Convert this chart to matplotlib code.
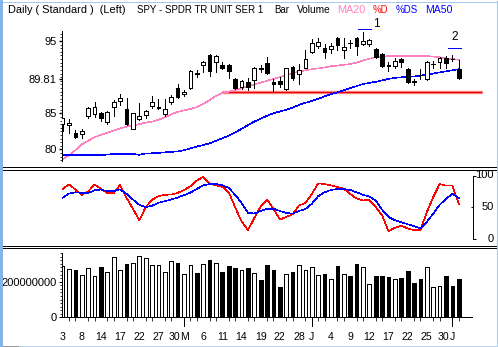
import numpy as np
import matplotlib
matplotlib.use("Agg")
import matplotlib.pyplot as plt
from matplotlib.lines import Line2D
from matplotlib.patches import Rectangle
from matplotlib import transforms

plt.rcParams["font.family"] = ["Liberation Sans", "DejaVu Sans"]
plt.rcParams["font.size"] = 8

# ---------------- data: SPY daily bars, 3 Apr - 2 Jul ----------------
date_labels = ["3", "8", "14", "17", "22", "27", "30", "M", "6", "11", "14", "19",
               "22", "28", "J", "4", "9", "12", "17", "22", "25", "30", "J"]
label_bars = [0, 3, 6, 9, 12, 15, 18, 19, 22, 25, 28, 31, 34, 37, 39, 42, 45, 48,
              51, 54, 57, 60, 61]
month_start_bars = [19, 39, 61]

opens = [83.48, 83.39, 82.33, 82.14, 84.68, 84.86, 85.00, 83.76, 85.92, 86.71,
         85.55, 82.79, 84.22, 84.77, 85.97, 85.69, 84.95, 86.52, 88.46, 87.63,
         88.46, 90.56, 91.68, 93.06, 92.05, 91.68, 91.68, 89.75, 88.69, 89.29,
         89.56, 91.20, 91.91, 89.38, 89.47, 88.32, 91.36, 90.39, 91.31, 93.53,
         94.35, 93.99, 93.90, 95.37, 93.76, 94.70, 95.37, 94.54, 94.54, 93.90,
         93.16, 91.61, 91.59, 92.47, 91.13, 89.40, 90.32, 89.75, 91.75, 92.05,
         92.60, 92.53, 91.13]
highs = [84.40, 84.22, 82.70, 82.83, 85.85, 86.52, 85.14, 85.37, 86.84, 87.67,
         87.07, 85.09, 86.38, 85.46, 87.44, 86.98, 86.98, 87.53, 89.00, 88.18,
         90.99, 90.99, 92.24, 93.20, 93.06, 92.05, 91.82, 89.93, 89.60, 89.93,
         91.45, 91.68, 92.74, 89.75, 89.98, 91.31, 91.54, 91.77, 93.76, 95.28,
         95.37, 94.54, 94.68, 95.60, 95.37, 95.14, 95.60, 96.20, 95.28, 93.99,
         93.30, 92.14, 92.70, 92.60, 91.20, 89.75, 91.13, 92.24, 92.24, 92.83,
         92.97, 93.06, 92.37]
lows = [82.56, 82.24, 81.54, 81.54, 84.31, 84.54, 83.99, 83.57, 84.68, 86.15,
        83.39, 82.79, 84.12, 84.31, 85.78, 85.60, 84.68, 86.24, 87.17, 87.44,
        88.36, 90.07, 90.76, 90.20, 90.76, 91.13, 89.84, 88.36, 88.36, 88.23,
        88.46, 90.76, 90.39, 88.13, 88.59, 88.23, 89.61, 89.01, 91.22, 93.39,
        93.99, 92.70, 93.30, 93.76, 92.60, 94.08, 93.06, 94.45, 94.35, 92.70,
        91.45, 90.85, 91.22, 91.45, 89.20, 88.92, 89.75, 89.61, 91.31, 91.31,
        91.22, 92.24, 89.75]
closes = [84.31, 83.71, 81.68, 82.56, 85.78, 85.88, 84.31, 85.23, 86.52, 87.17,
          83.48, 85.00, 84.59, 85.32, 86.61, 85.92, 85.55, 87.30, 87.30, 87.90,
          90.85, 90.50, 92.05, 90.85, 92.88, 91.22, 90.90, 88.55, 89.47, 88.59,
          91.22, 91.16, 90.53, 89.10, 89.01, 91.22, 89.84, 90.94, 92.51, 94.68,
          94.82, 93.53, 94.35, 94.45, 94.22, 94.66, 94.35, 95.00, 95.14, 92.83,
          91.59, 91.57, 92.24, 92.05, 89.29, 89.36, 90.28, 92.05, 91.79, 92.60,
          91.91, 92.49, 89.84]
volume_m = [288, 269, 265, 237, 275, 232, 282, 252, 336, 264, 299, 303, 344, 331,
            293, 292, 252, 316, 305, 243, 293, 249, 299, 321, 305, 254, 288, 277,
            265, 277, 249, 209, 293, 265, 170, 243, 254, 293, 265, 282, 237, 245,
            215, 288, 243, 232, 299, 282, 187, 234, 234, 226, 215, 221, 260, 193,
            215, 282, 170, 176, 232, 178, 215]
ma20 = [78.60, 79.20, 79.90, 80.70, 81.20, 81.70, 82.00, 82.30, 82.60, 82.90,
        83.15, 83.30, 83.50, 83.70, 83.85, 84.10, 84.45, 84.85, 85.20, 85.40,
        85.60, 85.85, 86.30, 86.80, 87.40, 87.85, 88.00, 88.20, 88.45, 88.75,
        89.00, 89.25, 89.50, 89.75, 90.00, 90.30, 90.55, 90.75, 90.95, 91.10,
        91.20, 91.35, 91.50, 91.60, 91.70, 91.80, 92.00, 92.30, 92.55, 92.75,
        92.85, 92.90, 92.93, 92.93, 92.93, 92.93, 92.93, 92.90, 92.85, 92.75,
        92.60, 92.50, 92.40]
ma50 = [79.25, 79.25, 79.25, 79.25, 79.25, 79.25, 79.25, 79.28, 79.38, 79.38,
        79.38, 79.38, 79.26, 79.45, 79.47, 79.52, 79.60, 79.66, 79.72, 79.90,
        80.15, 80.40, 80.60, 80.85, 81.20, 81.55, 81.90, 82.35, 82.85, 83.35,
        83.85, 84.25, 84.65, 85.00, 85.25, 85.50, 85.80, 86.15, 86.45, 86.70,
        87.00, 87.35, 87.65, 87.90, 88.20, 88.50, 88.75, 89.05, 89.20, 89.35,
        89.55, 89.75, 89.90, 89.97, 90.05, 90.10, 90.20, 90.35, 90.50, 90.65,
        90.80, 90.95, 91.10]
pct_d = [78.8, 86.0, 78.0, 69.5, 75.0, 85.5, 79.0, 72.6, 72.6, 85.0,
         65.0, 47.7, 29.5, 50.0, 61.7, 67.4, 69.5, 70.0, 72.6, 77.0,
         83.0, 92.0, 98.0, 86.6, 84.8, 82.0, 73.6, 50.0, 28.0, 14.0,
         33.0, 51.3, 61.7, 47.7, 30.6, 34.7, 38.9, 53.0, 56.5, 71.0,
         87.6, 86.6, 84.5, 81.9, 79.3, 71.0, 63.8, 60.7, 61.7, 50.3,
         37.4, 12.4, 17.6, 21.2, 16.5, 14.0, 14.0, 42.5, 65.8, 86.6,
         84.0, 84.0, 55.4]
pct_ds = [64.8, 71.6, 73.6, 72.6, 72.6, 76.7, 77.8, 75.2, 75.2, 78.3,
          71.0, 62.2, 53.9, 50.3, 52.4, 57.0, 59.6, 62.2, 65.3, 69.0,
          73.1, 78.8, 84.5, 86.6, 86.6, 84.5, 80.4, 69.5, 57.0, 41.4,
          40.0, 44.1, 47.7, 47.7, 44.1, 41.0, 40.0, 44.1, 47.2, 55.4,
          67.4, 73.6, 77.2, 78.8, 78.8, 77.2, 73.6, 69.5, 66.9, 60.7,
          46.2, 34.7, 29.5, 26.4, 23.3, 20.2, 16.5, 26.9, 40.0, 53.9,
          63.2, 71.0, 64.8]

price_ticks = [80, 85, 89.81, 95]
price_tick_labels = ["80", "85", "89.81", "95"]
support_level = 87.9
support_span = (24.9, 65.6)
marker_bars = [47.25, 61.3]
marker_levels = [96.62, 93.99]
marker_names = ["1", "2"]

# ---------------- figure geometry (pixels) ----------------
W, H = 498, 347
X0, DX = 62.6, 6.39          # pixel centre of first bar, pixel step per bar
PINK, RED, BLUE = "#ff80c0", "#ff0000", "#0000ff"
FRAME = "#86b4ea"
PX = 0.72                    # one pixel in points
THIN = 0.42                  # hairline width for the indicator curves

fig = plt.figure(figsize=(W / 100, H / 100), dpi=100)
fig.patch.set_facecolor("white")


def rect(l, t, r, b):
    return [l / W, 1 - b / H, (r - l) / W, (b - t) / H]


def xlim_for(l, r):
    return ((l - X0) / DX, (r - X0) / DX)


def fig_line(xs, ys, color, lw=PX):
    fig.add_artist(Line2D([x / W for x in xs], [1 - y / H for y in ys],
                          transform=fig.transFigure, color=color, lw=lw,
                          antialiased=False))


bars = np.arange(len(closes))
o = np.array(opens); c = np.array(closes)
up = c >= o
body_fill = np.where(up, "white", "black")

# ---------------- price panel ----------------
ax = fig.add_axes(rect(61.5, 31, 494, 160.5))
ax.set_xlim(*xlim_for(61.5, 494))
ax.set_ylim(78.47, 96.38)
ax.vlines(bars, lows, highs, color="black", lw=0.55, antialiased=False, zorder=3)
ax.bar(bars, np.maximum(np.abs(c - o), 0.03), bottom=np.minimum(o, c), width=0.58,
       color=body_fill, edgecolor="black", lw=0.55, antialiased=False, zorder=4)
ax.plot(bars, ma20, color=PINK, lw=THIN, antialiased=False, zorder=2)
ax.plot(bars, ma50, color=BLUE, lw=THIN, antialiased=False, zorder=2)
ax.plot(support_span, [support_level] * 2, color="#ff9a9a", lw=3.4 * PX,
        solid_capstyle="butt", zorder=1)
ax.plot(support_span, [support_level] * 2, color="#ee0000", lw=1.4 * PX,
        solid_capstyle="butt", zorder=1)
for xb, lvl, name in zip(marker_bars, marker_levels, marker_names):
    ax.plot([xb - 1.0, xb + 1.0], [lvl, lvl], color=BLUE, lw=0.55,
            antialiased=False, clip_on=False)
ax.text(marker_bars[0] + 1.8, marker_levels[0] + 0.66, marker_names[0],
        ha="center", va="center", fontsize=8.5, clip_on=False)
ax.text(marker_bars[1], marker_levels[1] + 1.5, marker_names[1],
        ha="center", va="center", fontsize=8.5, clip_on=False)

for s in ("top", "right", "bottom"):
    ax.spines[s].set_visible(False)
ax.spines["left"].set_linewidth(PX)
ax.set_xticks([])
ax.set_yticks(price_ticks)
ax.set_yticklabels(price_tick_labels)
ax.set_yticks(np.arange(78.5, 96.01, 0.5), minor=True)
ax.tick_params(axis="y", which="major", length=3 * PX, width=1.4 * PX, pad=1.2,
               labelsize=8)
ax.tick_params(axis="y", which="minor", length=2 * PX, width=0.55)
ax.patch.set_alpha(0)

# ---------------- stochastic panel ----------------
osc = fig.add_axes(rect(61.5, 171, 472.7, 244))
osc.set_xlim(*xlim_for(61.5, 472.7))
osc.set_ylim((239 - 244) / 0.635, (239 - 171) / 0.635)
osc.plot(bars, pct_d, color=RED, lw=THIN, antialiased=False)
osc.plot(bars, pct_ds, color=BLUE, lw=THIN, antialiased=False)
for s in ("top", "left", "bottom"):
    osc.spines[s].set_visible(False)
osc.spines["right"].set_bounds(0, 100)
osc.spines["right"].set_linewidth(PX)
osc.yaxis.tick_right()
osc.set_xticks([])
osc.set_yticks([0, 100])
osc.set_yticks([50], minor=True)
osc.tick_params(axis="y", which="major", direction="out", length=3 * PX,
                width=PX, labelright=False)
osc.tick_params(axis="y", which="minor", direction="in", length=2 * PX,
                width=PX, labelright=False)
blend = transforms.blended_transform_factory(osc.transAxes, osc.transData)
xr = (493.5 - 61.5) / (472.7 - 61.5)
for v in (0, 50, 100):
    osc.text(xr, v, str(v), transform=blend, ha="right", va="center", fontsize=8)
osc.patch.set_alpha(0)

# ---------------- volume panel ----------------
vax = fig.add_axes(rect(61.5, 252.7, 471.7, 317.3))
vax.set_xlim(*xlim_for(61.5, 471.7))
vol = np.array(volume_m) * 1e6
vax.set_ylim(0, (317.3 - 252.7) / 35.6 * 200e6)
vax.bar(bars, vol, width=0.58, color=body_fill, edgecolor="black", lw=0.55,
        antialiased=False)
for s in ("top", "right"):
    vax.spines[s].set_visible(False)
vax.spines["left"].set_linewidth(PX)
vax.spines["bottom"].set_linewidth(PX)
vax.set_yticks([0, 200e6])
vax.set_yticklabels(["0", "200000000"])
vax.set_yticks(np.arange(0, 361e6, 20e6), minor=True)
vax.tick_params(axis="y", which="major", length=3 * PX, width=PX, pad=1.0,
                labelsize=8)
vax.tick_params(axis="y", which="minor", length=2 * PX, width=0.55)
vax.set_xticks(label_bars)
vax.set_xticklabels(date_labels)
vax.set_xticks(bars, minor=True)
vax.tick_params(axis="x", which="major", length=0, pad=10.6, labelsize=7.6)
vax.tick_params(axis="x", which="minor", length=4 * PX, width=0.55)
# long ticks at the start of each month
xt = vax.get_xaxis_transform()
for m in month_start_bars:
    vax.add_line(Line2D([m, m], [0, -9 / (317.3 - 252.7)], transform=xt,
                        color="black", lw=PX, clip_on=False, antialiased=False))
# "30" and the month letter right after it sit edge to edge
ticklabs = vax.get_xticklabels()
for i, txt in enumerate(date_labels):
    if txt == "30" and i + 1 < len(date_labels) and date_labels[i + 1] in ("M", "J"):
        ticklabs[i].set_transform(ticklabs[i].get_transform() +
                                  transforms.ScaledTranslation(-3.0 / 100, 0,
                                                               fig.dpi_scale_trans))
vax.patch.set_alpha(0)

# ---------------- window frame, separators and legend line ----------------
fig.add_artist(Rectangle((0, 0), 3 / W, 1, transform=fig.transFigure,
                         color=FRAME, lw=0))
fig_line([3, 497], [1.5, 1.5], "#a9c8ee")
fig_line([496.5, 496.5], [1, 346], "#a9c8ee")
fig_line([3, 497], [345.5, 345.5], "#b8d0ee")
fig_line([3, 18], [345.5, 345.5], "#9a9a9a")
for y in (167.5, 169.5, 245.5, 247.5):
    fig_line([3, 496], [y, y], "black")

title_parts = [
    (8, "Daily ( Standard )  (Left)", "black", 7.9),
    (137, "SPY - SPDR TR UNIT SER 1", "black", 7.0),
    (274, "Bar", "black", 7.0),
    (297, "Volume", "black", 7.3),
    (337, "MA20", PINK, 7.8),
    (373, "%D", RED, 6.9),
    (396, "%DS", BLUE, 7.0),
    (425, "MA50", BLUE, 7.6),
]
for x, s, col, fs in title_parts:
    fig.text(x / W, 1 - 10 / H, s, color=col, ha="left", va="center", fontsize=fs)

fig.savefig("out.png", dpi=100)
